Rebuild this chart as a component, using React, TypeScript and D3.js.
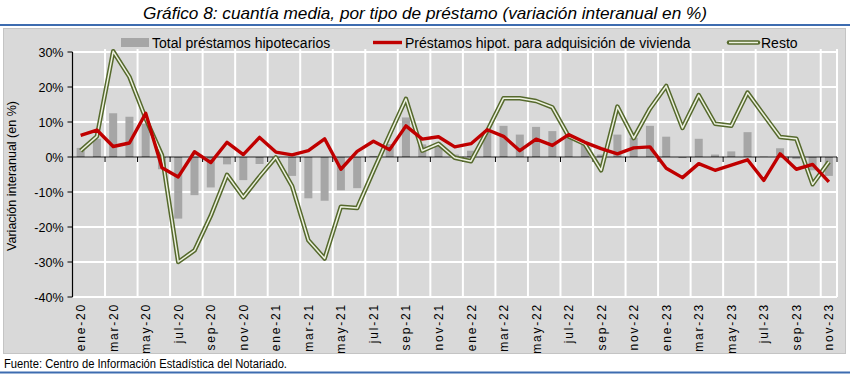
// Gráfico 8: cuantía media, por tipo de préstamo
import React, {useMemo} from 'react';
import * as d3 from 'd3';

const monthNames = ['ene', 'feb', 'mar', 'abr', 'may', 'jun', 'jul', 'ago', 'sep', 'oct', 'nov', 'dic'];
const years = ['20', '21', '22', '23'];
const months: string[] = years.flatMap((y) => monthNames.map((m) => `${m}-${y}`)).slice(0, 47);

// Total préstamos hipotecarios (barras)
const totalValues = [
  2.6, 5.2, 12.5, 11.5, 9.5, -3.5, -17.6, -10.9, -8.7, -2.1, -6.6, -2.0,
  -0.3, -5.4, -11.8, -12.5, -9.5, -8.9, 0.3, 3.7, 11.3, 3.6, 3.5, 0.7,
  1.8, 7.5, 8.9, 6.4, 8.6, 7.4, 5.5, 3.5, 0.7, 6.4, 5.5, 8.9,
  5.8, -0.3, 5.2, 0.7, 1.6, 7.1, 0.1, 2.5, -0.6, -3.8, -5.4,
];

// Préstamos hipot. para adquisición de vivienda
const viviendaValues = [
  6.2, 7.7, 3.0, 4.0, 12.5, -3.1, -5.7, 1.5, -1.6, 4.2, 0.7, 5.6,
  1.4, 0.6, 1.8, 5.2, -3.5, 1.6, 4.5, 2.1, 8.9, 5.1, 5.8, 2.9,
  3.8, 7.8, 5.9, 1.8, 5.1, 3.3, 6.4, 4.2, 2.4, 0.9, 2.6, 2.9,
  -3.2, -5.9, -1.9, -3.8, -2.3, -0.8, -6.7, 0.9, -3.5, -2.1, -7.1,
];

// Resto
const restoValues = [
  1.8, 5.9, 30.2, 22.9, 11.0, 0.5, -30.0, -26.7, -16.8, -5.1, -11.5, -5.6,
  -0.1, -8.3, -23.8, -29.0, -14.2, -14.6, -4.0, 6.4, 16.6, 1.8, 3.8, -0.2,
  -1.2, 7.5, 16.8, 16.8, 16.0, 14.2, 5.9, 3.7, -3.8, 14.4, 5.4, 13.8,
  20.3, 8.3, 17.7, 9.5, 8.9, 18.4, 12.0, 5.7, 5.2, -7.8, -1.4,
];

const yTicks = [30, 20, 10, 0, -10, -20, -30, -40];

const width = 850;
const height = 374;
const plot = {left: 72.5, right: 837, top: 52, bottom: 297};
const font = '"Liberation Sans", Arial, sans-serif';
const narrow = '"Liberation Sans Narrow", "Arial Narrow", "Liberation Sans", Arial, sans-serif';

const App: React.FC = () => {
  const x = useMemo(() => d3.scaleBand<string>()
      .domain(months)
      .range([plot.left, plot.right])
      .padding(0), []);
  const y = useMemo(() => d3.scaleLinear()
      .domain([-40, 30])
      .range([plot.bottom, plot.top]), []);

  const bw = x.bandwidth();
  const cx = (i: number) => (x(months[i]) as number) + bw / 2;

  const line = d3.line<number>()
      .x((_, i) => cx(i))
      .y((d) => y(d));

  const viviendaPath = line(viviendaValues) || '';
  const restoPath = line(restoValues) || '';

  // gridlines / ticks every 2 categories, at category boundaries
  const boundaries = months
      .map((m, i) => ({m, i}))
      .filter(({i}) => i > 0 && i % 2 === 0)
      .map(({m}) => x(m) as number)
      .concat([plot.right]);

  const labelMonths = months.filter((_, i) => i % 2 === 0);
  const barW = 8;

  return (
      <div style={{position: 'absolute', left: 0, top: 0}}>
        <svg width={width} height={height} style={{display: 'block', background: '#ffffff'}}>
          {/* title */}
          <text x={425} y={19} textAnchor="middle" fontFamily={narrow} fontStyle="italic"
                fontSize={17} fill="#000" textLength={564} lengthAdjust="spacingAndGlyphs">
            Gráfico 8: cuantía media, por tipo de préstamo (variación interanual en %)
          </text>
          <line x1={0} x2={width} y1={25} y2={25} stroke="#3d6cb0" strokeWidth={2}/>

          {/* chart box */}
          <rect x={3.5} y={28.5} width={842} height={325} fill="#d9d9d9" stroke="#c4c4c4"/>

          {/* horizontal gridlines */}
          {yTicks.map((t) => (
              <line key={`hg${t}`} x1={plot.left} x2={plot.right} y1={y(t)} y2={y(t)}
                    stroke="#ffffff" strokeWidth={2}/>
          ))}
          {/* vertical gridlines */}
          {boundaries.map((bx, i) => (
              <line key={`vg${i}`} x1={bx} x2={bx} y1={plot.top - 3} y2={plot.bottom}
                    stroke="#ffffff" strokeWidth={2}/>
          ))}

          {/* bars */}
          {totalValues.map((v, i) => (
              <rect key={`b${i}`} x={cx(i) - barW / 2} width={barW}
                    y={y(Math.max(0, v))} height={Math.abs(y(v) - y(0))}
                    fill="#a6a6a6"/>
          ))}

          {/* zero axis with ticks */}
          <line x1={plot.left} x2={plot.right} y1={y(0)} y2={y(0)} stroke="#000" strokeWidth={1.2}/>
          {boundaries.map((bx, i) => (
              <line key={`xt${i}`} x1={bx} x2={bx} y1={y(0)} y2={y(0) + 5} stroke="#000"/>
          ))}

          {/* y axis */}
          <line x1={plot.left} x2={plot.left} y1={plot.top} y2={plot.bottom} stroke="#000" strokeWidth={1.2}/>
          {yTicks.map((t) => (
              <g key={`yt${t}`}>
                <line x1={plot.left - 5} x2={plot.left} y1={y(t)} y2={y(t)} stroke="#000"/>
                <text x={plot.left - 9} y={y(t) + 4.5} textAnchor="end" fontFamily={font}
                      fontSize={12.5} fill="#000">{`${t}%`}</text>
              </g>
          ))}
          <text transform={`translate(16, 176) rotate(-90)`} textAnchor="middle" fontFamily={font}
                fontSize={12.5} fill="#000">Variación interanual (en %)</text>

          {/* lines */}
          <path d={restoPath} fill="none" stroke="#55692c" strokeWidth={4.5} strokeLinejoin="round"/>
          <path d={restoPath} fill="none" stroke="#eef2e2" strokeWidth={1.5} strokeLinejoin="round"/>
          <path d={viviendaPath} fill="none" stroke="#c00000" strokeWidth={3.4} strokeLinejoin="round"/>

          {/* x labels */}
          {labelMonths.map((m) => (
              <text key={`xl${m}`} transform={`translate(${(x(m) as number) + bw / 2 + 4.5}, 303) rotate(-90)`}
                    textAnchor="end" fontFamily={font} fontSize={12} letterSpacing={1.8}
                    fill="#000">{m}</text>
          ))}

          {/* legend */}
          <rect x={121} y={38} width={28} height={9} fill="#a6a6a6"/>
          <text x={152} y={47.5} fontFamily={font} fontSize={14} fill="#000">Total préstamos hipotecarios</text>
          <line x1={373} x2={402} y1={42.5} y2={42.5} stroke="#c00000" strokeWidth={3.4}/>
          <text x={405} y={47.5} fontFamily={font} fontSize={14} fill="#000">Préstamos hipot. para adquisición de vivienda</text>
          <line x1={729} x2={758} y1={42.5} y2={42.5} stroke="#55692c" strokeWidth={4.5} strokeLinecap="round"/>
          <line x1={729} x2={758} y1={42.5} y2={42.5} stroke="#eef2e2" strokeWidth={1.5}/>
          <text x={761} y={47.5} fontFamily={font} fontSize={14} fill="#000">Resto</text>

          {/* footer */}
          <text x={4} y={368} fontFamily={narrow} fontSize={12} fill="#000"
                textLength={283} lengthAdjust="spacingAndGlyphs">
            Fuente: Centro de Información Estadística del Notariado.
          </text>
          <line x1={0} x2={width} y1={372.5} y2={372.5} stroke="#3d6cb0" strokeWidth={2}/>
        </svg>
      </div>
  );
};

export default App;
